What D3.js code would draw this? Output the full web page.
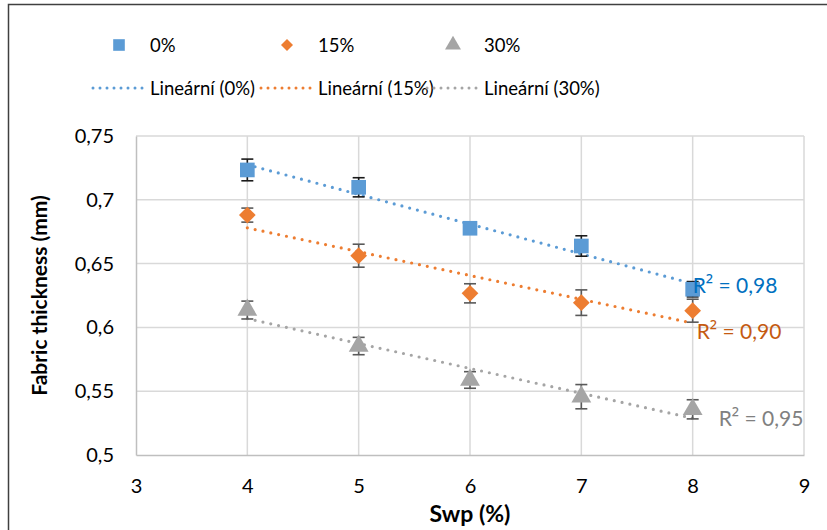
<!DOCTYPE html>
<html><head><meta charset="utf-8">
<script src="https://cdn.jsdelivr.net/npm/d3@7"></script>
<style>
html,body{margin:0;padding:0;background:#fff;}
svg{display:block;font-family:Lato,"Liberation Sans",sans-serif;}
</style></head>
<body>
<svg id="c" width="827" height="530"></svg>
<script>
const xTicks = [3, 4, 5, 6, 7, 8, 9];
const yTicks = [0.5, 0.55, 0.6, 0.65, 0.7, 0.75];
const yTickLabels = ["0,5", "0,55", "0,6", "0,65", "0,7", "0,75"];
const swp = [4, 5, 6, 7, 8];
const thick0 = [0.7234, 0.7098, 0.6777, 0.6638, 0.6299];
const err0 = [0.0085, 0.0075, 0.002, 0.008, 0.006];
const thick15 = [0.688, 0.6562, 0.6267, 0.6194, 0.6131];
const err15 = [0.0055, 0.009, 0.0075, 0.01, 0.009];
const thick30 = [0.6136, 0.5854, 0.5588, 0.5457, 0.5358];
const err30 = [0.007, 0.0068, 0.0065, 0.0095, 0.0075];
const seriesNames = ["0%", "15%", "30%"];
const trendNames = ["Lineární (0%)", "Lineární (15%)", "Lineární (30%)"];
const r2Values = ["0,98", "0,90", "0,95"];
const xTitle = "Swp (%)";
const yTitle = "Fabric thickness (mm)";

const colors = ["#5B9BD5", "#ED7D31", "#A5A5A5"];
const r2Colors = ["#0070C0", "#C55A11", "#808080"];
const errColors = ["#1a1a1a", "#595959", "#595959"];
const r2Offsets = [[0, 0], [4, 7], [26, -1.5]];

const diamond = {
  draw(ctx, size) {
    const r = Math.sqrt(size / 2);
    ctx.moveTo(0, -r); ctx.lineTo(r, 0); ctx.lineTo(0, r); ctx.lineTo(-r, 0); ctx.closePath();
  }
};

const series = [
  {vals: thick0, errs: err0, shape: d3.symbolSquare},
  {vals: thick15, errs: err15, shape: diamond},
  {vals: thick30, errs: err30, shape: d3.symbolTriangle}
];

const svg = d3.select("#c");
const x = d3.scaleLinear().domain([3, 9]).range([136, 804]);
const y = d3.scaleLinear().domain([0.5, 0.75]).range([455, 136]);

// outer frame
svg.append("rect").attr("x", 8.5).attr("y", 4.5).attr("width", 900).attr("height", 600)
  .attr("fill", "none").attr("stroke", "#404040").attr("stroke-width", 1.5);

// grid
const g = svg.append("g");
g.selectAll(".hg").data(yTicks.slice(1)).join("line")
  .attr("x1", x(3)).attr("x2", x(9)).attr("y1", d => y(d)).attr("y2", d => y(d))
  .attr("stroke", "#D9D9D9").attr("stroke-width", 1.5);
g.selectAll(".vg").data(xTicks.slice(1)).join("line")
  .attr("y1", y(0.5)).attr("y2", y(0.75)).attr("x1", d => x(d)).attr("x2", d => x(d))
  .attr("stroke", "#D9D9D9").attr("stroke-width", 1.5);

// axes
const xAxis = d3.axisBottom(x).tickValues(xTicks).tickSize(0).tickPadding(24)
  .tickFormat(d3.format("d"));
const yAxis = d3.axisLeft(y).tickValues(yTicks).tickSize(0).tickPadding(22)
  .tickFormat((d, i) => yTickLabels[i]);
const gx = svg.append("g").attr("transform", `translate(0,${y(0.5)})`).call(xAxis);
const gy = svg.append("g").attr("transform", `translate(${x(3)},0)`).call(yAxis);
[gx, gy].forEach(a => {
  a.select(".domain").attr("stroke", "#BFBFBF").attr("stroke-width", 1.5);
  a.selectAll("text").attr("font-family", "Lato").attr("font-size", 20).attr("fill", "#000");
});
gx.selectAll("text").attr("dy", "0.71em");

// titles
svg.append("text").attr("x", (x(3) + x(9)) / 2).attr("y", 522)
  .attr("text-anchor", "middle").attr("font-weight", "bold").attr("font-size", 23).text(xTitle);
svg.append("text").attr("transform", `translate(47,${(y(0.5) + y(0.75)) / 2}) rotate(-90)`)
  .attr("text-anchor", "middle").attr("font-weight", "bold").attr("font-size", 21).text(yTitle);

// trend lines (least squares)
function fit(xs, ys) {
  const mx = d3.mean(xs), my = d3.mean(ys);
  const s = d3.sum(xs, (xv, i) => (xv - mx) * (ys[i] - my)) / d3.sum(xs, xv => (xv - mx) ** 2);
  return {slope: s, icpt: my - s * mx};
}
const x0 = d3.min(swp), x1 = d3.max(swp);
series.forEach((s, i) => {
  const f = fit(swp, s.vals);
  s.fit = f;
  svg.append("line")
    .attr("x1", x(x0)).attr("y1", y(f.icpt + f.slope * x0))
    .attr("x2", x(x1)).attr("y2", y(f.icpt + f.slope * x1))
    .attr("stroke", colors[i]).attr("stroke-width", 3.2)
    .attr("stroke-linecap", "round").attr("stroke-dasharray", "0 8");
});

// error bars
series.forEach((s, i) => {
  const eg = svg.append("g").attr("stroke", errColors[i]).attr("stroke-width", 1.6);
  s.vals.forEach((v, j) => {
    const cx = x(swp[j]), yt = y(v + s.errs[j]), yb = y(v - s.errs[j]);
    eg.append("line").attr("x1", cx).attr("x2", cx).attr("y1", yt).attr("y2", yb);
    eg.append("line").attr("x1", cx - 6).attr("x2", cx + 6).attr("y1", yt).attr("y2", yt);
    eg.append("line").attr("x1", cx - 6).attr("x2", cx + 6).attr("y1", yb).attr("y2", yb);
  });
});

// markers
const sizes = [215, 140, 170];
series.forEach((s, i) => {
  svg.append("g").selectAll("path").data(s.vals).join("path")
    .attr("transform", (v, j) => `translate(${x(swp[j])},${y(v)})`)
    .attr("d", d3.symbol().type(s.shape).size(sizes[i]))
    .attr("fill", colors[i]);
});

// R² labels
series.forEach((s, i) => {
  const t = svg.append("text")
    .attr("x", x(x1) + r2Offsets[i][0])
    .attr("y", y(s.fit.icpt + s.fit.slope * x1) + r2Offsets[i][1])
    .attr("dominant-baseline", "central")
    .attr("font-size", 21).attr("fill", r2Colors[i]);
  t.append("tspan").text("R");
  t.append("tspan").attr("font-family", "Open Sans").text("²");
  t.append("tspan").text(" = " + r2Values[i]);
});

// legend
const legX = [119, 287, 453];
const legTextX = [150, 318, 484];
const legendSizes = [135, 72, 110];
series.forEach((s, i) => {
  svg.append("path").attr("transform", `translate(${legX[i]},45)`)
    .attr("d", d3.symbol().type(s.shape).size(legendSizes[i])).attr("fill", colors[i]);
  svg.append("text").attr("x", legTextX[i]).attr("y", 45).attr("dominant-baseline", "central")
    .attr("font-size", 18.5).text(seriesNames[i]);
  svg.append("line").attr("x1", legTextX[i] - 57).attr("x2", legTextX[i] - 7)
    .attr("y1", 88).attr("y2", 88).attr("stroke", colors[i]).attr("stroke-width", 3)
    .attr("stroke-linecap", "round").attr("stroke-dasharray", "0 7");
  svg.append("text").attr("x", legTextX[i]).attr("y", 88).attr("dominant-baseline", "central")
    .attr("font-size", 18.5).text(trendNames[i]);
});
</script>
</body></html>
